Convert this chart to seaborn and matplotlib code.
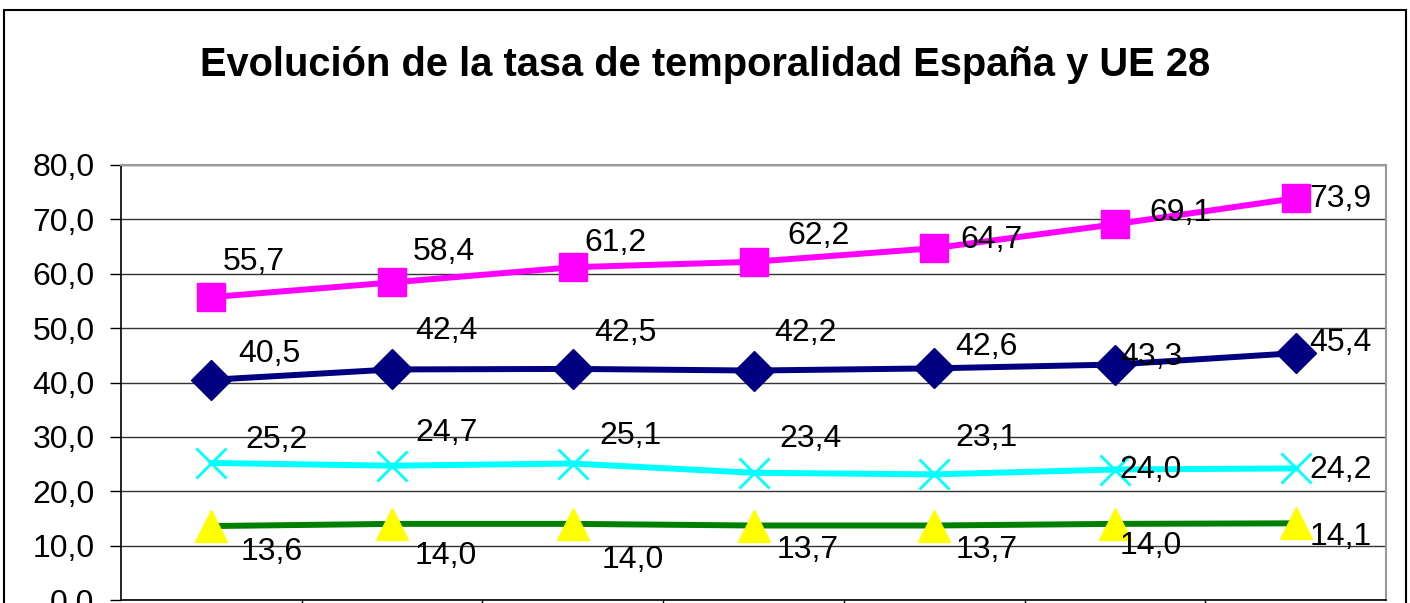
import numpy as np
import pandas as pd
import matplotlib
matplotlib.use("Agg")
import matplotlib.pyplot as plt
import seaborn as sns
from matplotlib.patches import Rectangle

# === Data ===
periods = ["2007", "2008", "2009", "2010", "2011", "2012", "2013"]
jovenes_espana = [55.7, 58.4, 61.2, 62.2, 64.7, 69.1, 73.9]
jovenes_ue28 = [40.5, 42.4, 42.5, 42.2, 42.6, 43.3, 45.4]
total_espana = [25.2, 24.7, 25.1, 23.4, 23.1, 24.0, 24.2]
total_ue28 = [13.6, 14.0, 14.0, 13.7, 13.7, 14.0, 14.1]

# label offsets (pixels, right / up) for each data label
off_pink = [(42, 35), (52, 30), (43, 24), (65, 26), (57, 8), (66, 11), (45, -1)]
off_navy = [(58, 26), (54, 38), (53, 36), (52, 38), (52, 21), (36, 8), (45, 10)]
off_cyan = [(65, 23), (54, 33), (58, 28), (57, 34), (52, 36), (36, 0), (45, -2)]
off_green = [(60, -26), (54, -32), (60, -36), (54, -24), (52, -24), (36, -22), (45, -14)]

sns.set_theme(style="white")
plt.rcParams["font.family"] = ["Liberation Sans", "DejaVu Sans"]
plt.rcParams["text.color"] = "black"
plt.rcParams["ytick.color"] = "black"
plt.rcParams["xtick.color"] = "black"

fig = plt.figure(figsize=(14.1, 6.03), dpi=100)
ax = fig.add_axes([121 / 1410, 3 / 603, (1386 - 121) / 1410, (600 - 165) / 603])

x = np.arange(len(periods))

series = [
    (jovenes_ue28, "#000080", "D", 20, "#000080", 1, off_navy),
    (jovenes_espana, "#FF00FF", "s", 20, "#FF00FF", 1, off_pink),
    (total_espana, "#00FFFF", "x", 22, "#00FFFF", 2, off_cyan),
    (total_ue28, "#008000", "^", 23, "#FFFF00", 1, off_green),
]

for vals, col, mk, ms, mcol, mew, offs in series:
    df = pd.DataFrame({"x": x, "y": vals})
    sns.lineplot(data=df, x="x", y="y", ax=ax, color=col, linewidth=4.3,
                 marker=mk, markersize=ms, markerfacecolor=mcol,
                 markeredgecolor=mcol, markeredgewidth=mew, legend=False)
    for xi, v, (dx, dy) in zip(x, vals, offs):
        ax.annotate(f"{v:.1f}".replace(".", ","), (xi, v), xytext=(dx, dy),
                    textcoords="offset pixels", ha="center", va="center",
                    fontsize=23, color="black", zorder=5)

ax.set_xlim(-0.5, len(periods) - 0.5)
ax.set_ylim(0, 80)
ax.set_yticks(np.arange(0, 81, 10))
ax.set_yticklabels([f"{t:.1f}".replace(".", ",") for t in np.arange(0, 81, 10)],
                   fontsize=23, color="black")
ax.set_xticks(np.arange(0.5, len(periods) - 0.5, 1))
ax.set_xticklabels([])
ax.tick_params(axis="y", which="major", left=True, length=8, width=1, color="black", pad=11)
ax.tick_params(axis="x", which="major", bottom=True, length=10, width=1, color="black")
ax.grid(axis="y", color="#333333", linewidth=1)
ax.grid(axis="x", visible=False)
ax.set_xlabel("")
ax.set_ylabel("")
for side in ["left", "bottom"]:
    ax.spines[side].set_color("black")
    ax.spines[side].set_linewidth(1.2)
for side in ["top", "right"]:
    ax.spines[side].set_color("#999999")
    ax.spines[side].set_linewidth(1.5)

fig.text(705 / 1410, 1 - 65 / 603, "Evolución de la tasa de temporalidad España y UE 28",
         ha="center", va="center", fontsize=28.7, fontweight="bold", color="black")

fig.patches.append(Rectangle((4 / 1410, -0.1), 1402 / 1410, (593 / 603) + 0.1,
                             transform=fig.transFigure, fill=False,
                             edgecolor="black", linewidth=1.5))

fig.savefig("out.png", dpi=100)
plt.close(fig)
